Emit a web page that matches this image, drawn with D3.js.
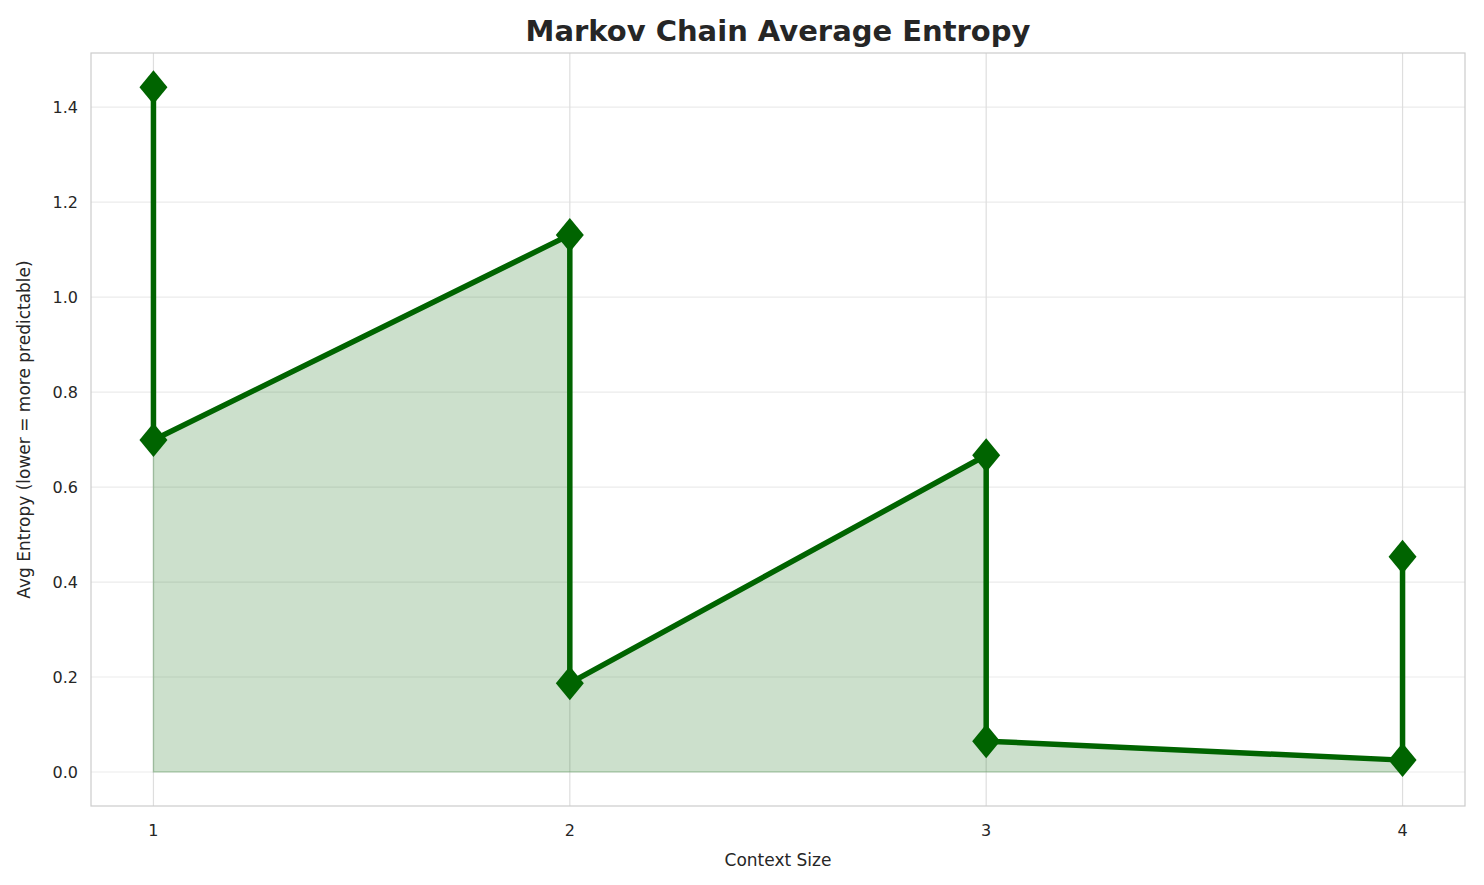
<!DOCTYPE html>
<html>
<head>
<meta charset="utf-8">
<title>Markov Chain Average Entropy</title>
<script src="https://cdn.jsdelivr.net/npm/d3@7"></script>
<style>
  body { margin: 0; background: #fff; font-family: "DejaVu Sans", sans-serif; }
</style>
</head>
<body>
<script>
// data, in drawing order
var contextSizes = [1, 1, 2, 2, 3, 3, 4, 4];
var entropies = [1.442, 0.699, 1.131, 0.187, 0.667, 0.065, 0.025, 0.453];
var xTicks = [1, 2, 3, 4];
var yTicks = [0, 0.2, 0.4, 0.6, 0.8, 1.0, 1.2, 1.4];

var W = 1484, H = 885;
var m = {left: 91, right: 19, top: 53, bottom: 79};
var green = "#006400";

var svg = d3.select("body").append("svg").attr("width", W).attr("height", H);

var x = d3.scaleLinear().domain([0.85, 4.15]).range([m.left, W - m.right]);
var y = d3.scaleLinear().domain([-0.0716, 1.514]).range([H - m.bottom, m.top]);

var pts = contextSizes.map(function (c, i) { return {x: c, y: entropies[i]}; });

// grid
svg.append("g").selectAll("line").data(yTicks).enter().append("line")
    .attr("x1", m.left).attr("x2", W - m.right)
    .attr("y1", function (d) { return y(d); }).attr("y2", function (d) { return y(d); })
    .attr("stroke", "#ebebeb").attr("stroke-width", 1.2);
svg.append("g").selectAll("line").data(xTicks).enter().append("line")
    .attr("y1", m.top).attr("y2", H - m.bottom)
    .attr("x1", function (d) { return x(d); }).attr("x2", function (d) { return x(d); })
    .attr("stroke", "#dedede").attr("stroke-width", 1.2);

// frame
svg.append("rect").attr("x", m.left).attr("y", m.top)
    .attr("width", W - m.left - m.right).attr("height", H - m.top - m.bottom)
    .attr("fill", "none").attr("stroke", "#cccccc").attr("stroke-width", 1.2);

// fill
svg.append("path").datum(pts)
    .attr("d", d3.area().x(function (d) { return x(d.x); }).y0(y(0)).y1(function (d) { return y(d.y); }))
    .attr("fill", green).attr("fill-opacity", 0.2)
    .attr("stroke", green).attr("stroke-opacity", 0.2).attr("stroke-width", 1.5);

// line
svg.append("path").datum(pts)
    .attr("d", d3.line().x(function (d) { return x(d.x); }).y(function (d) { return y(d.y); }))
    .attr("fill", "none").attr("stroke", green).attr("stroke-width", 5.5)
    .attr("stroke-linejoin", "round");

// markers
svg.append("g").selectAll("path").data(pts).enter().append("path")
    .attr("d", "M0,-17L14,0L0,17L-14,0Z")
    .attr("transform", function (d) { return "translate(" + x(d.x) + "," + y(d.y) + ")"; })
    .attr("fill", green);

// tick labels
svg.append("g").selectAll("text").data(xTicks).enter().append("text")
    .attr("x", function (d) { return x(d); }).attr("y", H - m.bottom + 30)
    .attr("text-anchor", "middle").attr("font-size", 16).attr("fill", "#262626")
    .text(function (d) { return d; });
svg.append("g").selectAll("text").data(yTicks).enter().append("text")
    .attr("x", m.left - 13).attr("y", function (d) { return y(d) + 6; })
    .attr("text-anchor", "end").attr("font-size", 16).attr("fill", "#262626")
    .text(function (d) { return d.toFixed(1); });

// axis titles
svg.append("text").attr("x", (m.left + W - m.right) / 2).attr("y", H - 19)
    .attr("text-anchor", "middle").attr("font-size", 17).attr("fill", "#262626")
    .text("Context Size");
svg.append("text").attr("transform", "translate(30," + ((m.top + H - m.bottom) / 2) + ") rotate(-90)")
    .attr("text-anchor", "middle").attr("font-size", 17).attr("fill", "#262626")
    .text("Avg Entropy (lower = more predictable)");

svg.append("text").attr("x", (m.left + W - m.right) / 2).attr("y", 41)
    .attr("text-anchor", "middle").attr("font-size", 29).attr("font-weight", "bold").attr("fill", "#262626")
    .text("Markov Chain Average Entropy");
</script>
</body>
</html>
